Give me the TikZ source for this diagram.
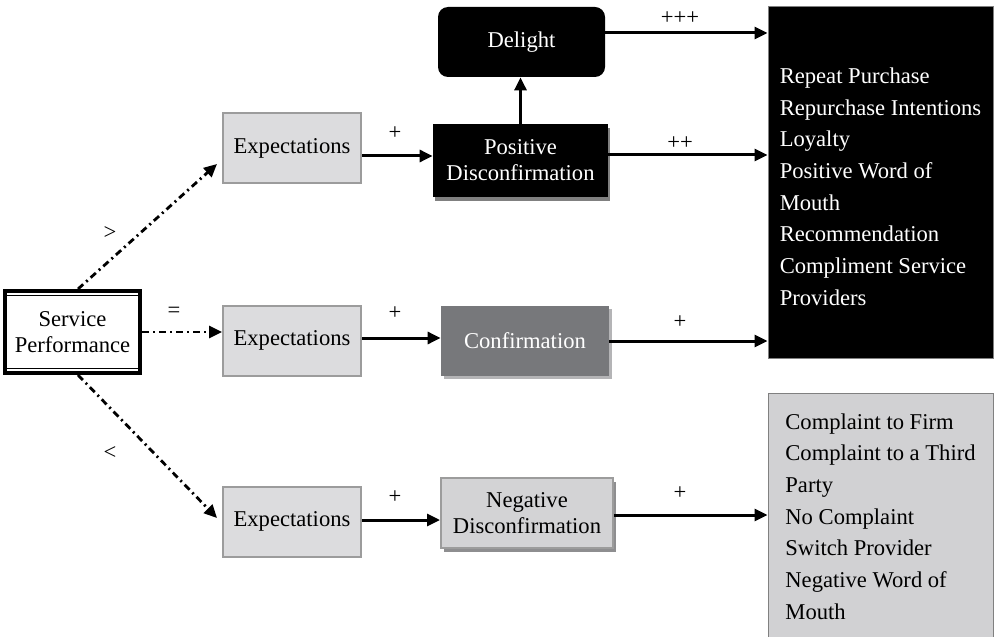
\documentclass[tikz,border=0pt]{standalone}
\usepackage{fontspec}
\setmainfont{Liberation Serif}
\usetikzlibrary{arrows.meta,shadows}
\definecolor{expfill}{HTML}{DCDCDE}
\definecolor{boxedge}{HTML}{9C9C9C}
\definecolor{confill}{HTML}{77787B}
\definecolor{conshadow}{HTML}{B4B4B6}
\definecolor{negfill}{HTML}{D3D3D5}
\definecolor{negshadow}{HTML}{8E8E90}
\definecolor{outfill}{HTML}{D1D1D3}
\begin{document}
\begin{tikzpicture}[x=0.5pt,y=-0.5pt,
  font=\fontsize{11.3}{13}\selectfont,
  base/.style={rectangle,inner sep=0pt,align=center},
  expbox/.style={base,fill=expfill,draw=boxedge,line width=1pt,minimum width=69pt,minimum height=35pt},
  darkbox/.style={base,fill=black,text=white},
  flow/.style={line width=1.5pt,-{Triangle[length=6.5pt,width=6pt]}},
  cue/.style={line width=1.4pt,dash pattern=on 3.5pt off 2pt on 1pt off 2pt,-{Triangle[length=6.5pt,width=6pt]}},
  sign/.style={inner sep=0pt}]
\clip (0,0) rectangle (994,636);

% starting point
\node[base,draw,line width=2pt,minimum width=67.5pt,minimum height=41pt] (sp) at (72.5,332) {Service\\Performance};
\draw[line width=0.5pt] ([xshift=1.75pt,yshift=-3.25pt]sp.north west) rectangle ([xshift=-1.75pt,yshift=3.25pt]sp.south east);

% expectation boxes
\node[expbox] (exp1) at (292,148.5) {Expectations};
\node[expbox] (exp2) at (292,340.5) {Expectations};
\node[expbox] (exp3) at (292,521.5) {Expectations};

% outcomes of the comparison
\node[darkbox,minimum width=87.5pt,minimum height=36.5pt,
  general shadow={fill=gray,shadow xshift=1pt,shadow yshift=-2pt}] (pos) at (520.5,160.5) {Positive\\Disconfirmation};
\node[darkbox,rounded corners=5pt,minimum width=83.5pt,minimum height=35pt] (del) at (521.5,42) {Delight};
\node[base,fill=confill,text=white,minimum width=84pt,minimum height=35pt,
  general shadow={fill=conshadow,shadow xshift=1.5pt,shadow yshift=-1.5pt}] (conf) at (525,341) {Confirmation};
\node[base,fill=negfill,draw=boxedge,line width=1pt,minimum width=86pt,minimum height=35pt,
  general shadow={fill=negshadow,shadow xshift=1.5pt,shadow yshift=-2pt}] (neg) at (527,513) {Negative\\Disconfirmation};

% consequences
\node[base,align=left,fill=black,text=white,draw=gray,line width=0.5pt,minimum width=112.5pt,minimum height=175.5pt,
  font=\fontsize{11.3}{15.85}\selectfont] (good) at (880.5,182.5)
  {\rule{0pt}{12pt}Repeat Purchase\\Repurchase Intentions\\Loyalty\\Positive Word of\\Mouth\\Recommendation\\Compliment Service\\Providers};
\node[base,align=left,fill=outfill,draw=gray,line width=0.5pt,minimum width=112.5pt,minimum height=123.5pt,
  font=\fontsize{11.3}{15.85}\selectfont] (bad) at (880.5,516.5)
  {Complaint to Firm\\Complaint to a Third\\Party\\No Complaint\\Switch Provider\\Negative Word of\\Mouth};

% comparison cues
\draw[cue] ([xshift=2.75pt]sp.north) -- ([xshift=-2.5pt,yshift=-7.75pt]exp1.west);
\draw[cue] (sp.east) -- (sp.east -| exp2.west);
\draw[cue] ([xshift=2.75pt]sp.south) -- ([xshift=-2.5pt,yshift=1.75pt]exp3.west);
\node[sign] (gt) at (110,233) {>};
\node[sign] (eq) at (174,312) {=};
\node[sign] (lt) at (110,453) {<};

% flows
\draw[flow] ([yshift=-3.75pt]exp1.east) -- ([yshift=-3.75pt]exp1.east -| pos.west);
\draw[flow] (pos.north) -- (pos.north |- del.south);
\draw[flow] ([yshift=4.5pt]del.east) -- ([yshift=4.5pt]del.east -| good.west);
\draw[flow] ([yshift=2.75pt]pos.east) -- ([yshift=2.75pt]pos.east -| good.west);
\draw[flow] ([yshift=1.25pt]exp2.east) -- ([yshift=1.25pt]exp2.east -| conf.west);
\draw[flow] (conf.east) -- (conf.east -| good.west);
\draw[flow] ([yshift=0.75pt]exp3.east) -- ([yshift=0.75pt]exp3.east -| neg.west);
\draw[flow] ([yshift=-1pt]neg.east) -- ([yshift=-1pt]neg.east -| bad.west);

% signs on the flows
\node[sign] (p1) at (395,133) {+};
\node[sign] (p2) at (395,313) {+};
\node[sign] (p3) at (395,497) {+};
\node[sign] (p4) at (680,18) {+++};
\node[sign] (p5) at (680,143) {++};
\node[sign] (p6) at (680,322) {+};
\node[sign] (p7) at (680,493) {+};
\end{tikzpicture}
\end{document}
